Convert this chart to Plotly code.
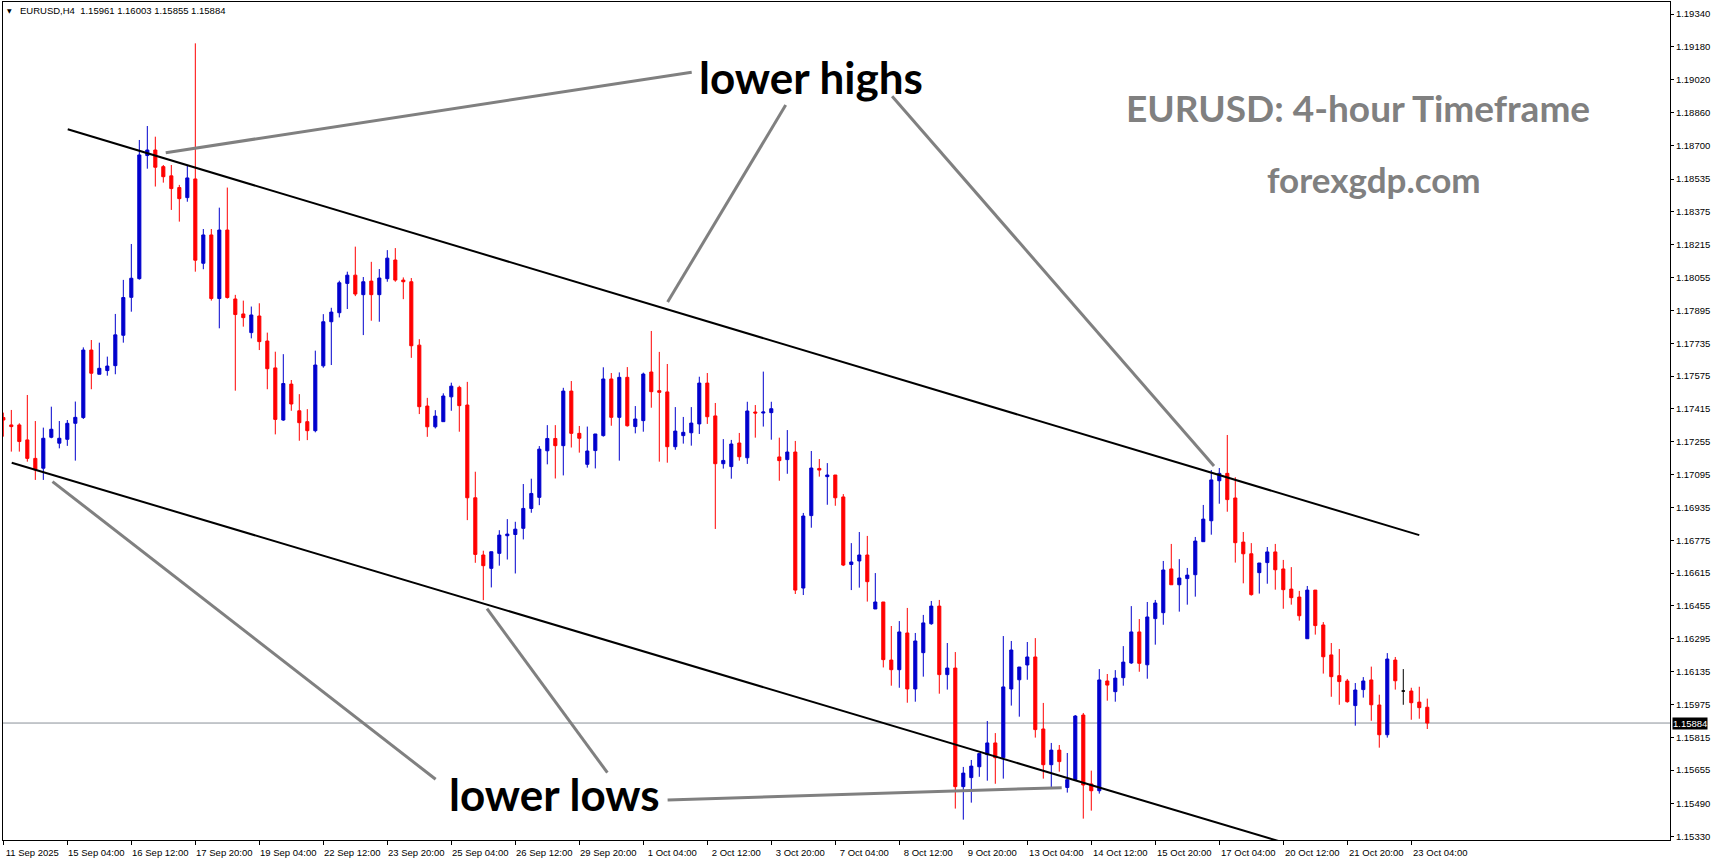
import plotly.graph_objects as go

# ---------------- data (EURUSD H4) ----------------
x_labels = ["11 Sep 2025", "15 Sep 04:00", "16 Sep 12:00", "17 Sep 20:00", "19 Sep 04:00",
            "22 Sep 12:00", "23 Sep 20:00", "25 Sep 04:00", "26 Sep 12:00", "29 Sep 20:00",
            "1 Oct 04:00", "2 Oct 12:00", "3 Oct 20:00", "7 Oct 04:00", "8 Oct 12:00",
            "9 Oct 20:00", "13 Oct 04:00", "14 Oct 12:00", "15 Oct 20:00", "17 Oct 04:00",
            "20 Oct 12:00", "21 Oct 20:00", "23 Oct 04:00"]

y_labels = ["1.19340", "1.19180", "1.19020", "1.18860", "1.18700", "1.18535", "1.18375",
            "1.18215", "1.18055", "1.17895", "1.17735", "1.17575", "1.17415", "1.17255",
            "1.17095", "1.16935", "1.16775", "1.16615", "1.16455", "1.16295", "1.16135",
            "1.15975", "1.15815", "1.15655", "1.15490", "1.15330"]

open_ = [1.17373, 1.17337, 1.17337, 1.17264, 1.17174, 1.17126, 1.17277, 1.17248, 1.17267, 1.17345,
         1.17373, 1.17702, 1.17584, 1.17602, 1.17626, 1.17774, 1.17959, 1.18050, 1.18650, 1.18677,
         1.18596, 1.18551, 1.18494, 1.18445, 1.18536, 1.18125, 1.18263, 1.17953, 1.18287, 1.17951,
         1.17878, 1.17787, 1.17868, 1.17746, 1.17615, 1.17361, 1.17536, 1.17406, 1.17353, 1.17309,
         1.17625, 1.17840, 1.17884, 1.18027, 1.18067, 1.17972, 1.18038, 1.17972, 1.18050, 1.18141,
         1.18043, 1.18035, 1.17726, 1.17429, 1.17328, 1.17353, 1.17474, 1.17520, 1.17434, 1.16982,
         1.16703, 1.16638, 1.16711, 1.16797, 1.16803, 1.16833, 1.16930, 1.16984, 1.17211, 1.17271,
         1.17236, 1.17502, 1.17296, 1.17145, 1.17212, 1.17285, 1.17561, 1.17374, 1.17569, 1.17329,
         1.17358, 1.17595, 1.17504, 1.17498, 1.17231, 1.17285, 1.17299, 1.17342, 1.17541, 1.17381,
         1.17148, 1.17134, 1.17249, 1.17177, 1.17400, 1.17395, 1.17397, 1.17181, 1.17168, 1.17205,
         1.16542, 1.16895, 1.17125, 1.17085, 1.17093, 1.16986, 1.16657, 1.16674, 1.16703, 1.16440,
         1.16474, 1.16191, 1.16144, 1.16323, 1.16050, 1.16227, 1.16368, 1.16454, 1.16120, 1.16152,
         1.15574, 1.15618, 1.15671, 1.15730, 1.15787, 1.15715, 1.16050, 1.16095, 1.16167, 1.16206,
         1.15855, 1.15681, 1.15752, 1.15570, 1.15608, 1.15923, 1.15587, 1.15554, 1.16089, 1.16037,
         1.16105, 1.16177, 1.16328, 1.16168, 1.16393, 1.16422, 1.16635, 1.16558, 1.16588, 1.16607,
         1.16768, 1.16870, 1.17065, 1.17101, 1.16981, 1.16766, 1.16709, 1.16617, 1.16666, 1.16718,
         1.16635, 1.16537, 1.16498, 1.16295, 1.16532, 1.16362, 1.16216, 1.16115, 1.16089, 1.15969,
         1.16047, 1.16094, 1.15972, 1.15827, 1.16191, 1.16040, 1.16040, 1.15986, 1.15961]

high = [1.17397, 1.17410, 1.17345, 1.17483, 1.17356, 1.17324, 1.17426, 1.17356, 1.17361, 1.17451,
        1.17715, 1.17751, 1.17738, 1.17670, 1.17878, 1.18044, 1.18219, 1.18726, 1.18794, 1.18742,
        1.18604, 1.18604, 1.18507, 1.18604, 1.19197, 1.18292, 1.18292, 1.18396, 1.18494, 1.17971,
        1.17943, 1.17914, 1.17930, 1.17787, 1.17694, 1.17682, 1.17556, 1.17487, 1.17414, 1.17699,
        1.17877, 1.17908, 1.18040, 1.18084, 1.18206, 1.18058, 1.18132, 1.18097, 1.18189, 1.18199,
        1.18056, 1.18053, 1.17755, 1.17469, 1.17409, 1.17491, 1.17543, 1.17528, 1.17547, 1.17109,
        1.16724, 1.16719, 1.16824, 1.16878, 1.16865, 1.17049, 1.17075, 1.17234, 1.17336, 1.17336,
        1.17518, 1.17551, 1.17332, 1.17329, 1.17293, 1.17618, 1.17590, 1.17593, 1.17619, 1.17429,
        1.17592, 1.17795, 1.17693, 1.17634, 1.17424, 1.17376, 1.17424, 1.17572, 1.17590, 1.17444,
        1.17268, 1.17264, 1.17298, 1.17450, 1.17434, 1.17597, 1.17450, 1.17275, 1.17312, 1.17259,
        1.16908, 1.17210, 1.17171, 1.17151, 1.17093, 1.17000, 1.16761, 1.16815, 1.16796, 1.16615,
        1.16474, 1.16357, 1.16381, 1.16445, 1.16323, 1.16411, 1.16479, 1.16484, 1.16274, 1.16230,
        1.15670, 1.15704, 1.15735, 1.15894, 1.15835, 1.16308, 1.16284, 1.16157, 1.16279, 1.16298,
        1.15982, 1.15787, 1.15777, 1.15738, 1.15923, 1.15933, 1.15652, 1.16147, 1.16123, 1.16142,
        1.16259, 1.16454, 1.16391, 1.16474, 1.16484, 1.16674, 1.16757, 1.16683, 1.16640, 1.16791,
        1.16947, 1.17117, 1.17127, 1.17288, 1.17082, 1.16815, 1.16761, 1.16664, 1.16742, 1.16757,
        1.16679, 1.16644, 1.16528, 1.16552, 1.16532, 1.16376, 1.16274, 1.16245, 1.16099, 1.16079,
        1.16108, 1.16159, 1.16022, 1.16225, 1.16206, 1.16147, 1.16056, 1.16061, 1.16003]

low = [1.17280, 1.17207, 1.17207, 1.17158, 1.17069, 1.17069, 1.17272, 1.17223, 1.17235, 1.17163,
       1.17366, 1.17511, 1.17584, 1.17577, 1.17584, 1.17738, 1.17889, 1.18045, 1.18586, 1.18499,
       1.18518, 1.18385, 1.18328, 1.18425, 1.18084, 1.18096, 1.17943, 1.17808, 1.17953, 1.17504,
       1.17816, 1.17759, 1.17702, 1.17511, 1.17291, 1.17357, 1.17406, 1.17260, 1.17263, 1.17301,
       1.17616, 1.17629, 1.17861, 1.17902, 1.17965, 1.17775, 1.17845, 1.17840, 1.18035, 1.18035,
       1.17950, 1.17664, 1.17390, 1.17279, 1.17320, 1.17353, 1.17406, 1.17304, 1.16873, 1.16665,
       1.16483, 1.16545, 1.16651, 1.16681, 1.16613, 1.16779, 1.16909, 1.16946, 1.17145, 1.17076,
       1.17091, 1.17227, 1.17202, 1.17129, 1.17125, 1.17280, 1.17333, 1.17163, 1.17329, 1.17296,
       1.17304, 1.17421, 1.17158, 1.17153, 1.17216, 1.17246, 1.17236, 1.17293, 1.17342, 1.16830,
       1.17124, 1.17075, 1.17163, 1.17147, 1.17275, 1.17329, 1.17265, 1.17065, 1.17099, 1.16513,
       1.16508, 1.16836, 1.17085, 1.16948, 1.16943, 1.16649, 1.16532, 1.16544, 1.16476, 1.16440,
       1.16155, 1.16066, 1.16056, 1.15983, 1.15988, 1.16110, 1.16363, 1.16027, 1.16047, 1.15467,
       1.15413, 1.15496, 1.15622, 1.15603, 1.15588, 1.15613, 1.15969, 1.15915, 1.16095, 1.15813,
       1.15613, 1.15572, 1.15647, 1.15545, 1.15603, 1.15418, 1.15457, 1.15540, 1.15993, 1.15988,
       1.16066, 1.16172, 1.16134, 1.16100, 1.16266, 1.16363, 1.16558, 1.16427, 1.16461, 1.16500,
       1.16768, 1.16802, 1.16953, 1.16914, 1.16666, 1.16565, 1.16505, 1.16515, 1.16563, 1.16534,
       1.16441, 1.16461, 1.16383, 1.16295, 1.16315, 1.16125, 1.16012, 1.15973, 1.15983, 1.15871,
       1.16008, 1.15895, 1.15764, 1.15813, 1.16047, 1.15973, 1.15900, 1.15905, 1.15855]

close = [1.17361, 1.17329, 1.17256, 1.17174, 1.17118, 1.17272, 1.17316, 1.17272, 1.17345, 1.17374,
         1.17702, 1.17589, 1.17613, 1.17624, 1.17776, 1.17958, 1.18052, 1.18653, 1.18677, 1.18593,
         1.18547, 1.18489, 1.18440, 1.18541, 1.18140, 1.18263, 1.17953, 1.18287, 1.17958, 1.17875,
         1.17860, 1.17873, 1.17743, 1.17611, 1.17364, 1.17539, 1.17439, 1.17348, 1.17309, 1.17629,
         1.17840, 1.17887, 1.18030, 1.18067, 1.17975, 1.18035, 1.17972, 1.18053, 1.18150, 1.18043,
         1.18035, 1.17723, 1.17426, 1.17328, 1.17380, 1.17478, 1.17526, 1.17431, 1.16982, 1.16706,
         1.16651, 1.16719, 1.16800, 1.16805, 1.16829, 1.16930, 1.17003, 1.17219, 1.17271, 1.17236,
         1.17502, 1.17296, 1.17272, 1.17210, 1.17293, 1.17561, 1.17374, 1.17569, 1.17333, 1.17366,
         1.17585, 1.17499, 1.17496, 1.17231, 1.17307, 1.17301, 1.17346, 1.17541, 1.17377, 1.17148,
         1.17164, 1.17244, 1.17182, 1.17405, 1.17395, 1.17400, 1.17416, 1.17163, 1.17205, 1.16532,
         1.16893, 1.17127, 1.17117, 1.17093, 1.16982, 1.16654, 1.16669, 1.16703, 1.16573, 1.16474,
         1.16193, 1.16144, 1.16328, 1.16050, 1.16284, 1.16372, 1.16454, 1.16120, 1.16152, 1.15574,
         1.15640, 1.15674, 1.15735, 1.15787, 1.15715, 1.16060, 1.16240, 1.16157, 1.16206, 1.15852,
         1.15681, 1.15752, 1.15696, 1.15608, 1.15918, 1.15582, 1.15554, 1.16094, 1.16069, 1.16103,
         1.16181, 1.16328, 1.16175, 1.16401, 1.16469, 1.16630, 1.16558, 1.16591, 1.16605, 1.16771,
         1.16878, 1.17069, 1.17101, 1.16973, 1.16763, 1.16709, 1.16510, 1.16664, 1.16718, 1.16631,
         1.16534, 1.16495, 1.16407, 1.16532, 1.16359, 1.16207, 1.16110, 1.16086, 1.15988, 1.16045,
         1.16089, 1.15973, 1.15827, 1.16196, 1.16090, 1.16040, 1.15983, 1.15959, 1.15884]

# channel trend lines (bar index, price)
upper_channel = [(8.05, 1.18778), (177.0, 1.16800)]
lower_channel = [(1.05, 1.17153), (160.0, 1.15302)]
# grey pointer lines (bar index, price)
pointers = [
    [(20.3, 1.18664), (86.05, 1.19056)],
    [(97.8, 1.18896), (83.04, 1.17936)],
    [(111.1, 1.18939), (151.34, 1.17137)],
    [(6.15, 1.17061), (54.04, 1.15610)],
    [(60.46, 1.16442), (75.51, 1.15642)],
    [(83.04, 1.15509), (132.3, 1.15569)],
]

# ---------------- figure ----------------
n = len(close)
xs = list(range(n))
is_doji = [open_[i] == close[i] for i in xs]

def pick(arr, keep):
    return [arr[i] if keep[i] else None for i in xs]

not_doji = [not d for d in is_doji]
BLUE = "#0000CD"
RED = "#FF0000"

fig = go.Figure()
fig.add_trace(go.Candlestick(
    x=xs, open=pick(open_, not_doji), high=pick(high, not_doji),
    low=pick(low, not_doji), close=pick(close, not_doji),
    increasing=dict(line=dict(color=BLUE, width=1), fillcolor=BLUE),
    decreasing=dict(line=dict(color=RED, width=1), fillcolor=RED),
    whiskerwidth=0, hoverinfo="skip", showlegend=False,
))
fig.add_trace(go.Candlestick(
    x=xs, open=pick(open_, is_doji), high=pick(high, is_doji),
    low=pick(low, is_doji), close=pick(close, is_doji),
    increasing=dict(line=dict(color="black", width=1), fillcolor="black"),
    decreasing=dict(line=dict(color="black", width=1), fillcolor="black"),
    whiskerwidth=0, hoverinfo="skip", showlegend=False,
))

shapes = []
# current price line
shapes.append(dict(type="line", xref="paper", x0=0, x1=1, yref="y", y0=close[-1], y1=close[-1],
                   line=dict(color="#8A9099", width=1), layer="below"))
for (a, b) in [upper_channel, lower_channel]:
    shapes.append(dict(type="line", xref="x", yref="y", x0=a[0], y0=a[1], x1=b[0], y1=b[1],
                       line=dict(color="black", width=2)))
for (a, b) in pointers:
    shapes.append(dict(type="line", xref="x", yref="y", x0=a[0], y0=a[1], x1=b[0], y1=b[1],
                       line=dict(color="#808080", width=3)))

PW, PH, L0, B0 = 1667.0, 838.0, 3.0, 840.0
def px(x):
    return (x - L0) / PW
def py(y):
    return (B0 - y) / PH

big_font = "Lato, 'Liberation Sans', Arial, sans-serif"
small_font = "'Liberation Sans', Arial, sans-serif"
NB = "\u00a0"
header = "EURUSD,H4" + NB + NB + " ".join(f"{v:.5f}" for v in (open_[-1], high[-1], low[-1], close[-1]))

annotations = [
    dict(text="<b>lower highs</b>", x=px(811), y=py(77), font=dict(family=big_font, size=44, color="black")),
    dict(text="<b>lower lows</b>", x=px(554), y=py(794), font=dict(family=big_font, size=44, color="black")),
    dict(text="<b>EURUSD: 4-hour Timeframe</b>", x=px(1358), y=py(107), font=dict(family=big_font, size=37, color="#808080")),
    dict(text="<b>forexgdp.com</b>", x=px(1374), y=py(179), font=dict(family=big_font, size=35, color="#808080")),
    dict(text=header, x=px(18), y=py(11), xanchor="left", font=dict(family=small_font, size=9.5, color="black")),
    dict(text="▼", x=px(9.5), y=py(11), font=dict(family="DejaVu Sans", size=6, color="black")),
    dict(text=f"{close[-1]:.5f}", xref="paper", yref="y", x=1, y=close[-1], xanchor="left", xshift=2,
         bgcolor="black", borderpad=0, font=dict(family=small_font, size=9.5, color="white")),
]
for a in annotations:
    a.setdefault("xref", "paper")
    a.setdefault("yref", "paper")
    a.setdefault("xanchor", "center")
    a.setdefault("yanchor", "middle")
    a["showarrow"] = False

fig.update_layout(
    width=1716, height=861,
    margin=dict(l=3, r=46, t=2, b=21, autoexpand=False),
    paper_bgcolor="white", plot_bgcolor="white",
    showlegend=False, boxgap=0.45, boxmode="overlay",
    shapes=shapes, annotations=annotations,
    xaxis=dict(range=[-0.04, 208.34], tickmode="array",
               tickvals=[8 * k for k in range(len(x_labels))], ticktext=x_labels,
               ticks="outside", ticklen=4, tickcolor="black", showgrid=False, zeroline=False,
               showline=True, linecolor="black", linewidth=1, mirror=True,
               rangeslider=dict(visible=False), fixedrange=True,
               tickfont=dict(family=small_font, size=9.5, color="black"),
               ticklabelshift=29, ticklabelstandoff=0),
    yaxis=dict(side="right", range=[1.153139, 1.193985], tickmode="array",
               tickvals=[float(v) for v in y_labels], ticktext=y_labels,
               ticks="outside", ticklen=3, tickcolor="black", showgrid=False, zeroline=False,
               showline=True, linecolor="black", linewidth=1, mirror=True, fixedrange=True,
               tickfont=dict(family=small_font, size=9.5, color="black")),
)

body_fix = ("document.body.style.margin='0';document.body.style.padding='0';"
            "document.body.style.overflow='hidden';")
fig.write_html("out.html", post_script=body_fix, config={"displayModeBar": False})
